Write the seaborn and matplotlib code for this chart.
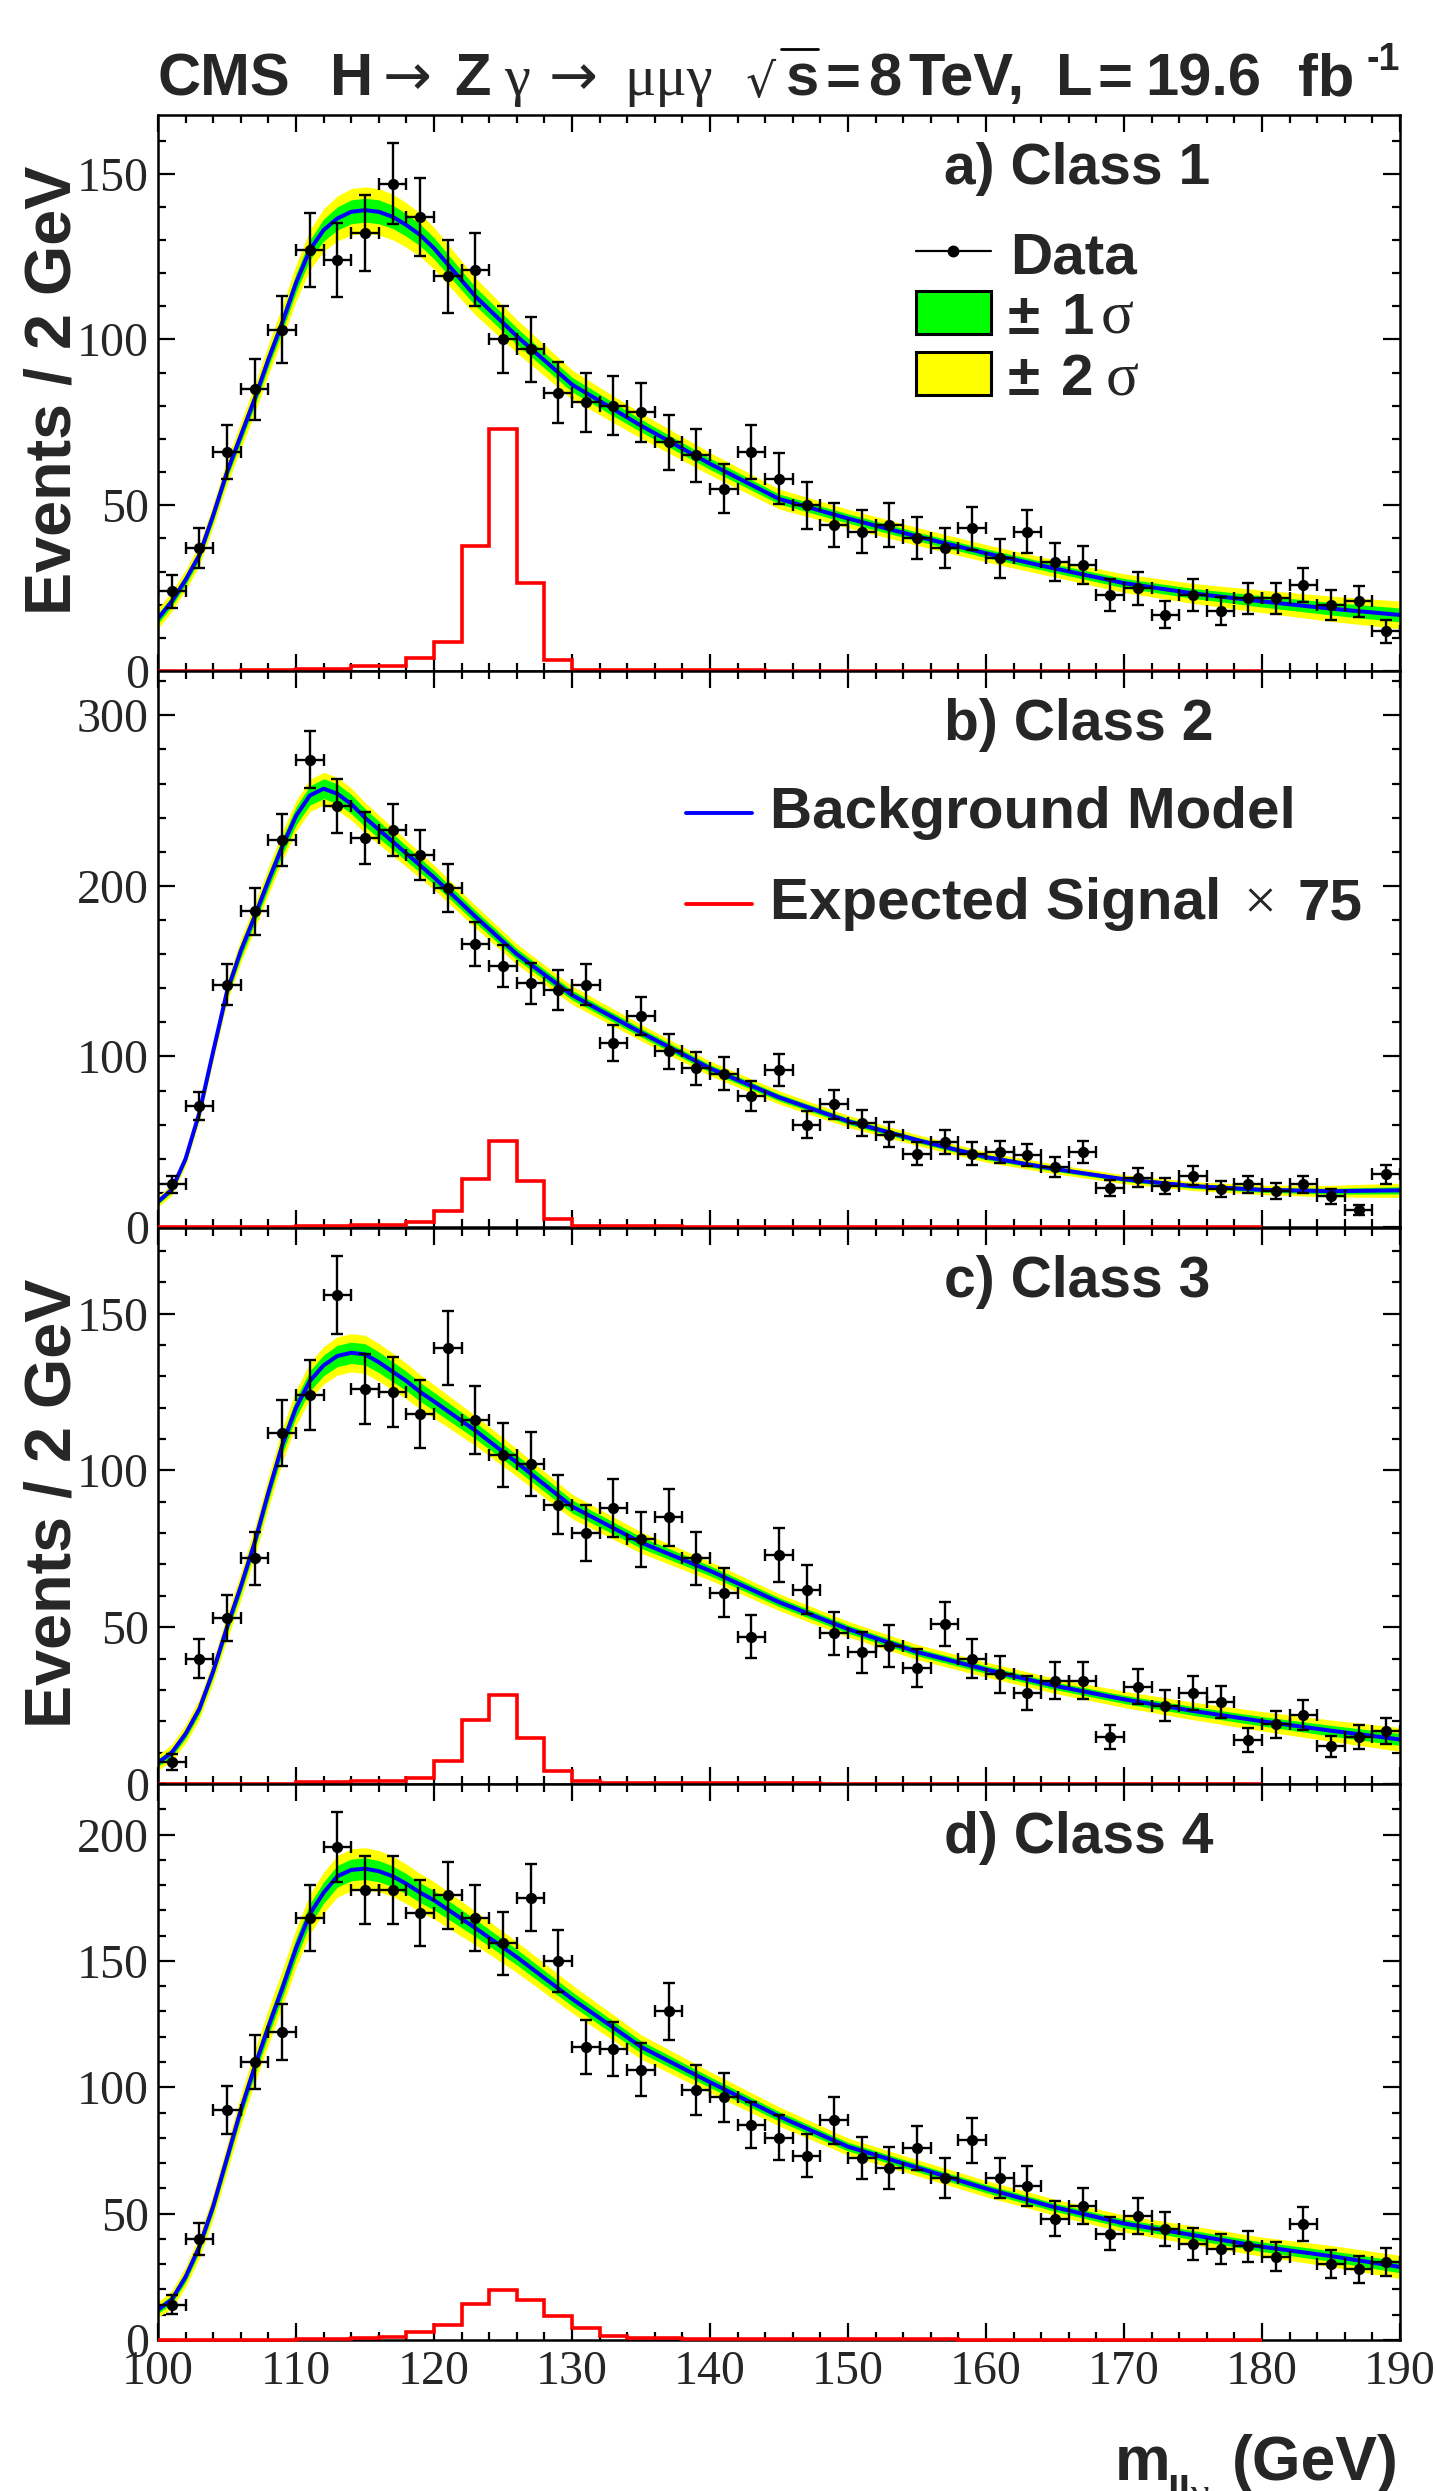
import numpy as np
import pandas as pd
import seaborn as sns
import matplotlib
matplotlib.use("Agg")
import matplotlib.pyplot as plt
from matplotlib.lines import Line2D
from matplotlib.patches import Rectangle
from matplotlib.ticker import MultipleLocator

W, H = 1436, 2491

# 2 GeV bins between 100 and 190 GeV
data_edges = np.arange(100, 191, 2)
data_centers = data_edges[:-1] + 1
# expected signal histogram only goes up to 180 GeV
sig_edges = np.arange(100, 181, 2)

fit_x = [100, 101, 102, 103, 104, 105, 106, 107, 108, 109, 110, 111, 112, 113, 114,
         115, 116, 117, 118, 119, 120, 123, 126, 130, 135, 140, 145, 150, 155, 160,
         165, 170, 175, 180, 185, 190]

# ---- class 1
class1_counts = [24, 37, 66, 85, 103, 127, 124, 132, 147, 137, 119, 121, 100, 97, 84,
                 81, 80, 78, 69, 65, 55, 66, 58, 50, 44, 42, 44, 40, 37, 43,
                 34, 42, 33, 32, 23, 25, 17, 23, 18, 22, 22, 26, 20, 21, 12]
class1_fit = [15.8, 21, 27.5, 35, 47, 60, 71, 82, 94, 105, 117, 127, 133, 136.5, 138.5,
              139, 138.5, 137, 134.5, 131.5, 127.5, 113, 101, 86.4, 74, 62.5, 51.9, 46,
              40.6, 35.5, 30.9, 26.5, 23.4, 21, 18.8, 16.9]
class1_err1 = [1.5, 1.5, 1.5, 1.6, 1.8, 1.9, 2.0, 2.2, 2.3, 2.5, 2.8, 3.0, 3.3, 3.5, 3.6,
               3.6, 3.6, 3.5, 3.4, 3.3, 3.2, 2.8, 2.5, 2.2, 1.9, 1.7, 1.5, 1.4, 1.3, 1.3,
               1.3, 1.4, 1.5, 1.7, 1.9, 2.1]
class1_err2 = [3.0, 3.0, 3.0, 3.2, 3.5, 3.8, 4.0, 4.3, 4.6, 5.0, 5.5, 6.0, 6.4, 6.8, 7.0,
               7.0, 7.0, 6.9, 6.7, 6.5, 6.3, 5.6, 5.0, 4.4, 3.8, 3.4, 3.0, 2.8, 2.7, 2.6,
               2.6, 2.8, 3.0, 3.4, 3.8, 4.2]
class1_sig = [0.05, 0.05, 0.05, 0.2, 0.2, 0.75, 0.75, 1.5, 1.5, 3.8, 8.8, 37.7, 73.0,
              26.4, 3.2, 0.4, 0.3, 0.25, 0.2, 0.2, 0.2, 0.2, 0.15, 0.15, 0.15, 0.15,
              0.15, 0.1, 0.1, 0.1, 0.1, 0.1, 0.1, 0.1, 0.1, 0.1, 0.1, 0.1, 0.1, 0.1]

# ---- class 2
class2_counts = [25, 71, 142, 185, 227, 274, 247, 228, 233, 218, 199, 166, 153, 143, 139,
                 142, 108, 124, 103, 93, 90, 77, 92, 60, 72, 61, 54, 43, 50, 43,
                 44, 42, 35, 44, 23, 29, 24, 30, 22, 25, 21, 25, 18, 10, 31]
class2_fit = [14.8, 22, 40, 67, 103, 138, 162, 182, 203, 223, 241, 253, 257, 254, 248,
              240, 233, 226, 219, 212, 205, 182, 160, 136, 114, 93, 76, 62, 51, 41,
              34, 28, 24, 21.8, 21, 21.5]
class2_err1 = [1.5, 1.7, 2.0, 2.5, 3.0, 3.5, 4.0, 4.3, 4.5, 4.9, 5.3, 5.6, 5.8, 5.8, 5.6,
               5.3, 5.0, 4.7, 4.4, 4.2, 4.0, 3.6, 3.2, 2.8, 2.5, 2.2, 2.0, 1.8, 1.6, 1.5,
               1.4, 1.3, 1.3, 1.4, 1.7, 2.1]
class2_err2 = [3.0, 3.4, 4.0, 4.8, 5.5, 6.3, 7.0, 7.5, 8.0, 8.5, 9.0, 9.4, 9.6, 9.6, 9.4,
               9.0, 8.6, 8.2, 7.8, 7.5, 7.2, 6.6, 6.0, 5.4, 4.8, 4.3, 3.9, 3.5, 3.2, 3.0,
               2.8, 2.6, 2.6, 2.8, 3.4, 4.2]
class2_sig = [0.05, 0.05, 0.05, 0.1, 0.1, 0.4, 0.4, 1.0, 1.0, 3.2, 9.5, 28.3, 50.4,
              26.8, 4.6, 0.6, 0.4, 0.3, 0.3, 0.25, 0.2, 0.2, 0.2, 0.2, 0.15, 0.15,
              0.15, 0.1, 0.1, 0.1, 0.1, 0.1, 0.1, 0.1, 0.1, 0.1, 0.1, 0.1, 0.1, 0.1]

# ---- class 3
class3_counts = [7, 40, 53, 72, 112, 124, 156, 126, 125, 118, 139, 116, 105, 102, 89,
                 80, 88, 78, 85, 72, 61, 47, 73, 62, 48, 42, 44, 37, 51, 40,
                 35, 29, 33, 33, 15, 31, 25, 29, 26, 14, 19, 22, 12, 15, 17]
class3_fit = [6.8, 10, 16, 24, 36, 50, 63, 77, 93, 108, 120, 128.5, 133.5, 136.5, 137.5,
              137, 134.5, 131.5, 128.5, 125, 122, 112.7, 102.5, 88.5, 77, 68, 58, 49.4,
              42.1, 36.5, 31.3, 27, 23.3, 20, 17, 14.2]
class3_err1 = [1.2, 1.3, 1.5, 1.6, 1.8, 2.0, 2.2, 2.4, 2.6, 2.8, 3.0, 3.2, 3.3, 3.4, 3.4,
               3.4, 3.3, 3.2, 3.1, 3.0, 2.9, 2.6, 2.4, 2.1, 1.8, 1.6, 1.4, 1.3, 1.2, 1.2,
               1.2, 1.3, 1.4, 1.5, 1.7, 1.9]
class3_err2 = [2.4, 2.7, 3.0, 3.3, 3.6, 4.0, 4.3, 4.7, 5.0, 5.3, 5.6, 5.8, 6.0, 6.1, 6.1,
               6.1, 6.0, 5.9, 5.7, 5.5, 5.3, 4.8, 4.4, 3.9, 3.4, 3.0, 2.7, 2.5, 2.4, 2.4,
               2.4, 2.6, 2.8, 3.1, 3.4, 3.8]
class3_sig = [0.05, 0.05, 0.05, 0.1, 0.1, 0.5, 0.5, 0.9, 0.9, 2.0, 7.3, 20.5, 28.5,
              14.6, 4.2, 0.8, 0.4, 0.3, 0.3, 0.25, 0.2, 0.2, 0.2, 0.2, 0.15, 0.15,
              0.15, 0.1, 0.1, 0.1, 0.1, 0.1, 0.1, 0.1, 0.1, 0.1, 0.1, 0.1, 0.1, 0.1]

# ---- class 4
class4_counts = [14, 40, 91, 110, 122, 167, 195, 178, 178, 169, 176, 167, 157, 175, 150,
                 116, 115, 107, 130, 99, 96, 85, 80, 73, 87, 72, 68, 76, 64, 79,
                 64, 61, 48, 53, 42, 49, 44, 38, 36, 37, 33, 46, 30, 28, 31]
class4_fit = [12, 16, 25, 37, 53, 72, 91, 108, 124, 139, 155, 168.5, 177, 183.5, 186,
              186.5, 185.5, 183.5, 180.5, 177, 174, 163, 151.5, 135, 116, 102, 88.5,
              76.5, 68.2, 59.9, 52.5, 46.1, 41.5, 36.9, 33.2, 28.9]
class4_err1 = [1.5, 1.7, 2.0, 2.2, 2.5, 2.8, 3.0, 3.3, 3.5, 3.7, 3.9, 4.1, 4.2, 4.3, 4.3,
               4.3, 4.2, 4.1, 4.0, 3.9, 3.8, 3.4, 3.1, 2.8, 2.4, 2.1, 1.9, 1.7, 1.6, 1.6,
               1.6, 1.7, 1.8, 1.9, 2.1, 2.3]
class4_err2 = [3.0, 3.5, 4.0, 4.5, 5.0, 5.5, 6.0, 6.5, 7.0, 7.3, 7.6, 7.9, 8.1, 8.2, 8.3,
               8.3, 8.2, 8.0, 7.8, 7.6, 7.4, 6.7, 6.1, 5.5, 4.8, 4.2, 3.8, 3.4, 3.2, 3.2,
               3.2, 3.4, 3.6, 3.8, 4.2, 4.6]
class4_sig = [0.1, 0.1, 0.1, 0.1, 0.1, 0.4, 0.4, 0.6, 1.0, 3.1, 5.9, 14.4, 19.6,
              15.7, 9.3, 4.6, 1.5, 0.7, 0.6, 0.5, 0.4, 0.35, 0.3, 0.3, 0.25, 0.25,
              0.2, 0.2, 0.2, 0.15, 0.15, 0.15, 0.1, 0.1, 0.1, 0.1, 0.1, 0.1, 0.1, 0.1]

class_labels = ["a) Class 1", "b) Class 2", "c) Class 3", "d) Class 4"]
y_max = [167.7, 326, 177.3, 220]
y_major = [50, 100, 50, 50]

sns.set_theme(style="ticks")
SANS = ["Liberation Sans", "DejaVu Sans"]
SERIF = ["Liberation Serif", "DejaVu Serif"]
plt.rcParams["font.family"] = SANS

fig = plt.figure(figsize=(W / 100, H / 100), dpi=100)
fig.patch.set_facecolor("white")


def put(x, y, s, size, family=SANS, weight="bold", ha="left", va="baseline", **kw):
    # x, y in pixels from the top left corner
    return fig.text(x / W, 1 - y / H, s, fontsize=size, family=family,
                    weight=weight, ha=ha, va=va, **kw)


def fig_line(x0, x1, y0, y1, color, lw):
    fig.add_artist(Line2D([x0 / W, x1 / W], [1 - y0 / H, 1 - y1 / H],
                          transform=fig.transFigure, color=color, lw=lw))


def fig_box(x0, y0, x1, y1, color):
    fig.add_artist(Rectangle((x0 / W, 1 - y1 / H), (x1 - x0) / W, (y1 - y0) / H,
                             transform=fig.transFigure, facecolor=color,
                             edgecolor="black", lw=2.2))


left, right = 158, 1400
tops = [115, 671, 1228, 1784]
ph = 556

all_data = [
    (class1_counts, class1_fit, class1_err1, class1_err2, class1_sig),
    (class2_counts, class2_fit, class2_err1, class2_err2, class2_sig),
    (class3_counts, class3_fit, class3_err1, class3_err2, class3_sig),
    (class4_counts, class4_fit, class4_err1, class4_err2, class4_sig),
]

for i, (counts, fit, e1, e2, sig) in enumerate(all_data):
    ax = fig.add_axes([left / W, 1 - (tops[i] + ph) / H, (right - left) / W, ph / H])
    fit = np.array(fit)
    e1 = np.array(e1)
    e2 = np.array(e2)
    counts = np.array(counts, dtype=float)

    # background model with its 1 and 2 sigma bands
    ax.fill_between(fit_x, fit - e2, fit + e2, color="#ffff00", lw=0, zorder=1)
    ax.fill_between(fit_x, fit - e1, fit + e1, color="#00ff00", lw=0, zorder=1.5)
    fit_df = pd.DataFrame({"mass": fit_x, "bkg": fit})
    sns.lineplot(data=fit_df, x="mass", y="bkg", color="#0000ff", lw=2.9, ax=ax, zorder=2)

    # expected signal x 75
    ax.stairs(sig, sig_edges, baseline=None, color="#ff0000", lw=2.6, zorder=4, clip_on=False)

    # data
    ax.errorbar(data_centers, counts, xerr=1, yerr=np.sqrt(counts), fmt="none",
                ecolor="black", elinewidth=1.7, capsize=4, capthick=1.7, zorder=5)
    pts = pd.DataFrame({"mass": data_centers, "n": counts})
    sns.scatterplot(data=pts, x="mass", y="n", color="black", s=65, edgecolor="black",
                    linewidth=0, ax=ax, zorder=6)

    ax.set_xlim(100, 190)
    ax.set_ylim(0, y_max[i])
    ax.set_xlabel("")
    ax.set_ylabel("")
    ax.xaxis.set_major_locator(MultipleLocator(10))
    ax.xaxis.set_minor_locator(MultipleLocator(2))
    ax.yaxis.set_major_locator(MultipleLocator(y_major[i]))
    ax.yaxis.set_minor_locator(MultipleLocator(y_major[i] / 5))
    ax.tick_params(which="both", direction="in", top=True, right=True,
                   width=1.6, color="black", labelsize=34.5)
    ax.tick_params(which="major", length=12)
    ax.tick_params(which="minor", length=6)
    ax.tick_params(axis="y", pad=6.5)
    ax.tick_params(axis="x", pad=7, labelbottom=(i == 3))
    for lab in ax.get_xticklabels() + ax.get_yticklabels():
        lab.set_family(SERIF)
    for sp in ax.spines.values():
        sp.set_linewidth(1.8)
        sp.set_color("black")
    ax.set_facecolor("white")

    put(944, tops[i] + 69, class_labels[i], 41)

# y axis titles on panels a and c
for i in (0, 2):
    fig.text(71 / W, 1 - (tops[i] + 51) / H, "Events / 2 GeV", fontsize=46.5,
             family=SANS, weight="bold", rotation=90, rotation_mode="anchor",
             ha="right", va="baseline")

# x axis title: m_llgamma (GeV), subscript runs off the bottom edge as in the original
put(1115, 2480, "m", 45)
put(1167, 2506, "ll", 30)
put(1190, 2506, "\u03b3", 30, family=SERIF, weight="normal")
put(1399, 2480, "(GeV)", 45, ha="right")

# header line
ARROW = ["DejaVu Sans"]
put(158, 95, "CMS", 43)
put(330, 95, "H", 43)
put(383, 95, "\u2192", 42, family=ARROW, weight="normal")
put(454, 95, "Z", 43)
put(504, 95, "\u03b3", 42, family=SERIF, weight="normal")
put(549, 95, "\u2192", 42, family=ARROW, weight="normal")
put(624, 95, "\u03bc\u03bc\u03b3", 42, family=SERIF, weight="normal")
put(746, 97, "\u221a", 34, family=ARROW, weight="normal")
put(786, 95, "s", 43)
fig_line(781, 818, 49, 49, "black", 2.0)
put(826, 95, "=", 43)
put(868, 95, "8", 43)
put(908, 95, "TeV,", 43)
put(1056, 95, "L", 43)
put(1097, 95, "=", 43)
put(1145, 95, "19.6", 43)
put(1298, 95, "fb", 43)
put(1400, 70, "-1", 27, ha="right")

# legend in panel a
fig_line(916, 991, 251, 251, "black", 1.6)
fig.add_artist(Line2D([953 / W], [1 - 251 / H], transform=fig.transFigure,
                      marker="o", ms=7.5, color="black", lw=0))
put(1010, 273, "Data", 42)
fig_box(916, 291, 991, 334, "#00ff00")
put(1008, 334, "\u00b1", 42)
put(1061, 334, "1", 42)
put(1101, 334, "\u03c3", 44, family=SERIF, weight="normal")
fig_box(916, 352, 991, 395, "#ffff00")
put(1008, 395, "\u00b1", 42)
put(1061, 395, "2", 42)
put(1106, 395, "\u03c3", 44, family=SERIF, weight="normal")

# legend in panel b
fig_line(686, 752, 813, 813, "#0000ff", 2.8)
put(770, 828, "Background Model", 42)
fig_line(686, 752, 904, 904, "#ff0000", 2.8)
put(770, 919, "Expected Signal", 42)
put(1243, 919, "\u00d7", 42, family=SERIF, weight="normal")
put(1298, 919, "75", 42)

fig.savefig("out.png", dpi=100)
